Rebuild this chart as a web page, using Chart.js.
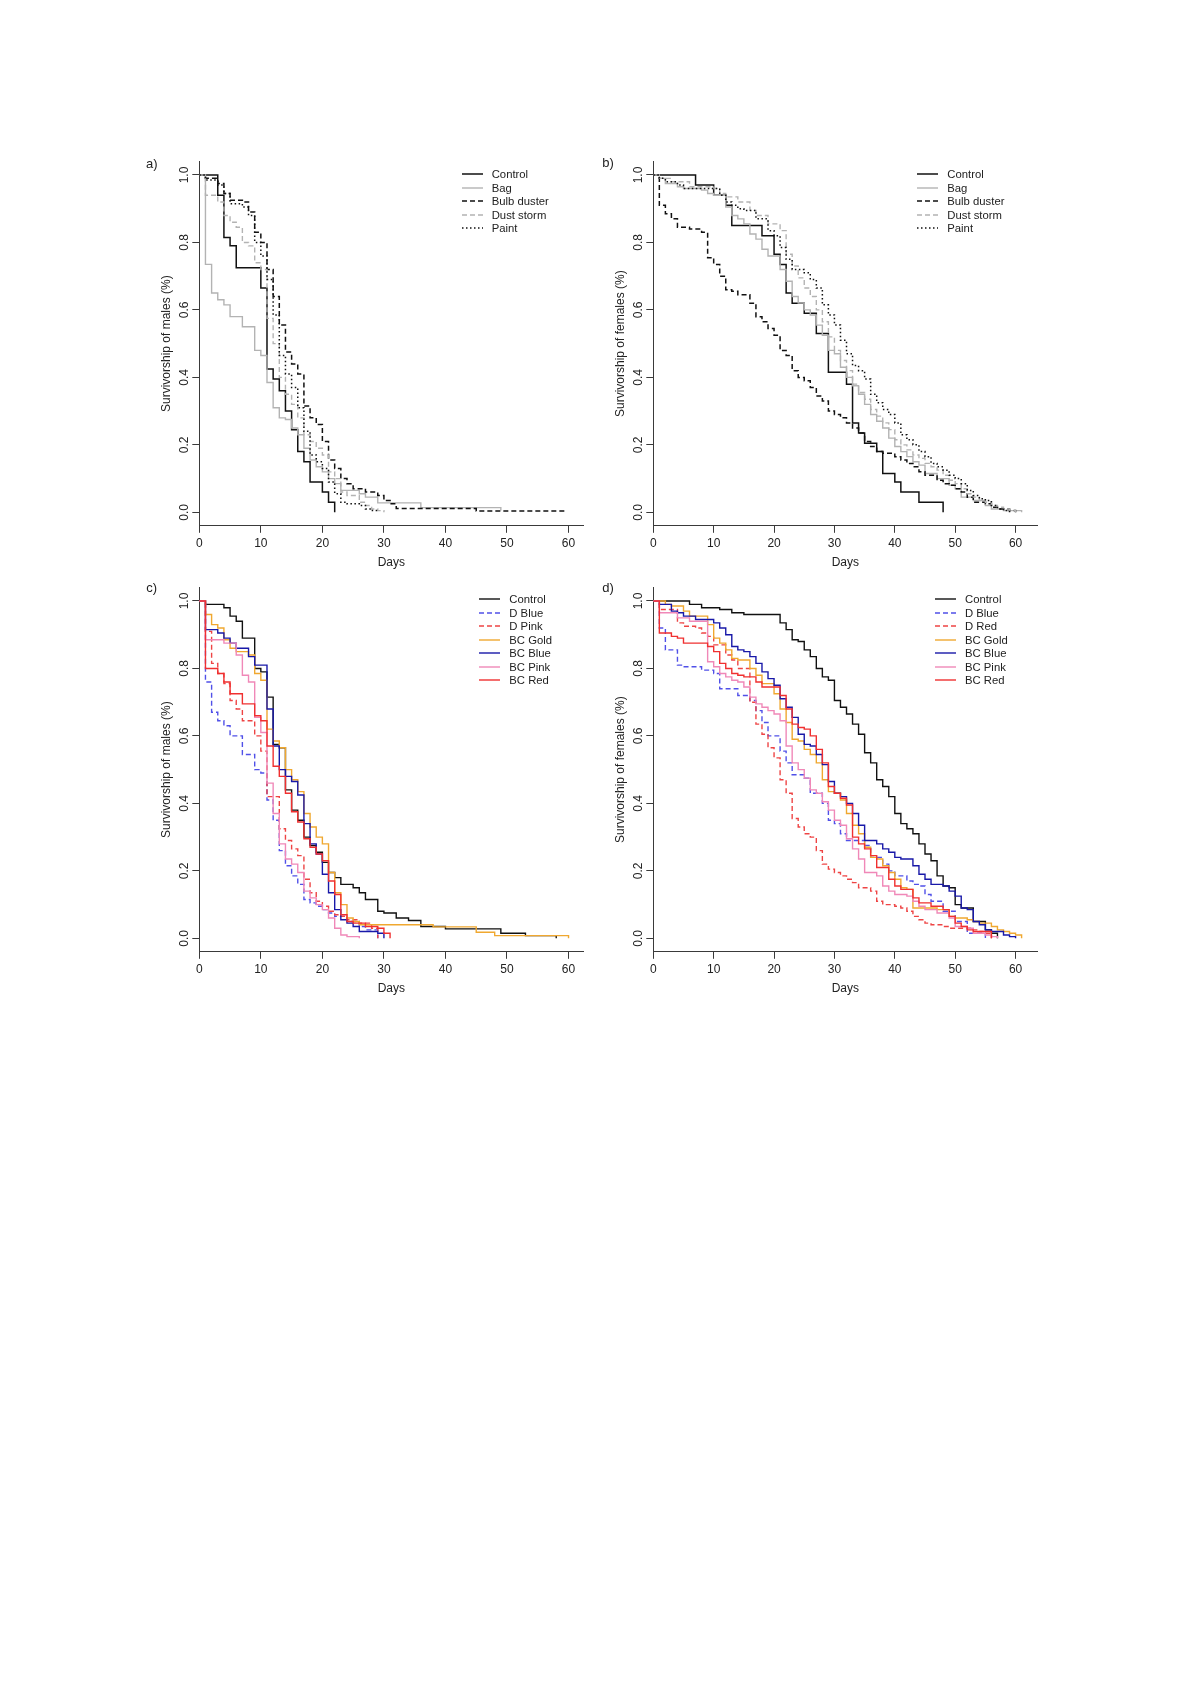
<!DOCTYPE html>
<html>
<head>
<meta charset="utf-8">
<title>Survivorship curves</title>
<script src="https://cdn.jsdelivr.net/npm/chart.js@4.4.0/dist/chart.umd.min.js"></script>
<style>
  body { margin: 0; background: #fff; }
  #page { position: relative; width: 1200px; height: 1697px; background: #fff;
          font-family: 'Liberation Sans', Arial, sans-serif; color: #222; overflow: hidden; }
  .panel { position: absolute; }
  .tag { position: absolute; font-size: 13px; line-height: 1; transform: translate(-50%, -50%); }
  .legend { position: absolute; font-size: 11.3px; }
  .legend div { display: flex; align-items: center; height: 13.5px; white-space: nowrap; }
  .legend svg { margin-right: 9px; flex: none; }
</style>
</head>
<body>
<div id="page"></div>
<script>
// Tick labels
const dayTicks = [0, 10, 20, 30, 40, 50, 60];
const survTicks = [0, 0.2, 0.4, 0.6, 0.8, 1.0];

// Series names
const namesAB = ['Control', 'Bag', 'Bulb duster', 'Dust storm', 'Paint'];
const namesC = ['Control', 'D Blue', 'D Pink', 'BC Gold', 'BC Blue', 'BC Pink', 'BC Red'];
const namesD = ['Control', 'D Blue', 'D Red', 'BC Gold', 'BC Blue', 'BC Pink', 'BC Red'];

// a) males, [day, survivorship]
const aControl = [[0,1],[3,0.94],[4,0.815],[5,0.79],[6,0.725],[10,0.665],[11,0.425],[12,0.395],[13,0.36],[14,0.30],[15,0.245],[16,0.18],[17,0.15],[18,0.09],[20,0.06],[21,0.03],[22,0]];
const aBag = [[0,1],[1,0.735],[2,0.65],[3,0.63],[4,0.615],[5,0.58],[7,0.55],[9,0.48],[10,0.465],[11,0.385],[12,0.31],[13,0.28],[14,0.275],[15,0.25],[16,0.23],[17,0.19],[18,0.155],[19,0.135],[20,0.12],[21,0.10],[22,0.085],[23,0.065],[26,0.055],[27,0.045],[29,0.028],[36,0.014],[49,0.005]];
const aBulb = [[0,1],[1,0.99],[3,0.975],[4,0.945],[5,0.925],[7,0.92],[8,0.89],[9,0.83],[10,0.80],[11,0.72],[12,0.64],[13,0.555],[14,0.475],[15,0.44],[16,0.41],[17,0.315],[18,0.28],[19,0.26],[20,0.21],[21,0.155],[22,0.13],[23,0.10],[24,0.085],[25,0.07],[27,0.06],[29,0.05],[30,0.035],[31,0.025],[32,0.011],[45,0.004],[59.7,0.004]];
const aDust = [[0,1],[1,0.94],[3,0.92],[4,0.88],[5,0.86],[6,0.845],[7,0.80],[8,0.79],[9,0.74],[10,0.72],[11,0.575],[12,0.50],[13,0.40],[14,0.35],[15,0.32],[16,0.28],[17,0.23],[18,0.21],[19,0.19],[20,0.17],[21,0.12],[22,0.10],[23,0.06],[24,0.05],[26,0.03],[27,0.02],[28,0.01],[29,0.005],[30,0]];
const aPaint = [[0,1],[1,0.985],[3,0.97],[4,0.945],[5,0.915],[7,0.905],[8,0.88],[9,0.80],[10,0.76],[11,0.69],[12,0.585],[13,0.465],[14,0.41],[15,0.37],[16,0.31],[17,0.24],[18,0.17],[19,0.15],[20,0.13],[21,0.09],[22,0.055],[23,0.03],[24,0.025],[26,0.02],[27,0.01],[28,0.005],[29,0]];

// b) females
const bControl = [[0,1],[7,0.97],[10,0.94],[12,0.91],[13,0.85],[18,0.82],[20,0.765],[21,0.735],[22,0.65],[23,0.62],[25,0.59],[27,0.53],[29,0.415],[32,0.38],[33,0.265],[34,0.235],[35,0.205],[37,0.18],[38,0.115],[40,0.09],[41,0.06],[44,0.03],[48,0]];
const bBag = [[0,1],[1,0.99],[2,0.975],[4,0.965],[5,0.96],[8,0.955],[9,0.945],[10,0.94],[12,0.905],[13,0.88],[14,0.87],[15,0.855],[16,0.825],[17,0.81],[18,0.78],[19,0.76],[21,0.72],[22,0.685],[23,0.64],[24,0.62],[25,0.60],[26,0.585],[27,0.555],[28,0.525],[29,0.48],[30,0.47],[31,0.43],[32,0.40],[33,0.375],[34,0.35],[35,0.32],[36,0.29],[37,0.27],[38,0.25],[39,0.22],[40,0.195],[41,0.18],[42,0.165],[43,0.15],[44,0.14],[45,0.115],[47,0.10],[49,0.08],[50,0.07],[51,0.045],[53,0.035],[55,0.02],[56,0.01],[58,0.005],[61,0]];
const bBulb = [[0,1],[1,0.91],[2,0.885],[3,0.87],[4,0.845],[6,0.84],[8,0.83],[9,0.755],[10,0.735],[11,0.70],[12,0.66],[13,0.655],[14,0.645],[16,0.62],[17,0.58],[18,0.565],[19,0.545],[20,0.525],[21,0.48],[22,0.465],[23,0.42],[24,0.40],[25,0.39],[26,0.37],[27,0.345],[28,0.33],[29,0.30],[30,0.29],[31,0.28],[32,0.265],[33,0.25],[34,0.235],[35,0.21],[36,0.195],[37,0.18],[38,0.175],[40,0.165],[41,0.155],[42,0.145],[43,0.135],[44,0.12],[45,0.11],[47,0.095],[48,0.085],[49,0.08],[50,0.07],[51,0.06],[52,0.045],[53,0.03],[55,0.025],[56,0.015],[57,0.01],[59,0.005],[60,0]];
const bDust = [[0,1],[1,0.99],[3,0.98],[6,0.965],[10,0.96],[11,0.945],[12,0.935],[14,0.92],[16,0.895],[17,0.88],[19,0.855],[21,0.835],[22,0.765],[23,0.73],[24,0.695],[25,0.665],[26,0.64],[27,0.60],[28,0.565],[29,0.52],[30,0.48],[31,0.45],[32,0.42],[33,0.38],[34,0.355],[35,0.335],[36,0.305],[37,0.285],[38,0.265],[39,0.245],[40,0.215],[41,0.20],[42,0.185],[43,0.17],[44,0.16],[45,0.145],[46,0.135],[47,0.125],[48,0.11],[49,0.095],[50,0.085],[51,0.07],[52,0.055],[53,0.045],[54,0.035],[55,0.03],[56,0.02],[57,0.015],[58,0.01],[59,0.005],[60,0]];
const bPaint = [[0,1],[1,0.99],[2,0.98],[4,0.97],[5,0.96],[11,0.94],[12,0.92],[13,0.91],[14,0.90],[15,0.895],[17,0.87],[19,0.835],[20,0.82],[21,0.785],[22,0.75],[23,0.72],[25,0.71],[26,0.69],[27,0.665],[28,0.615],[29,0.585],[30,0.555],[31,0.51],[32,0.47],[33,0.435],[34,0.42],[35,0.395],[36,0.35],[37,0.325],[38,0.305],[39,0.29],[40,0.265],[41,0.23],[42,0.215],[43,0.20],[44,0.18],[45,0.165],[46,0.145],[47,0.135],[48,0.125],[49,0.11],[50,0.10],[51,0.085],[52,0.065],[53,0.05],[54,0.04],[55,0.035],[56,0.02],[57,0.01],[58,0.005],[59,0]];

// c) males
const cControl = [[0,1],[1,0.99],[4,0.98],[5,0.955],[6,0.94],[7,0.89],[9,0.80],[10,0.79],[11,0.715],[12,0.575],[13,0.565],[14,0.44],[15,0.38],[16,0.35],[17,0.30],[18,0.275],[19,0.255],[20,0.225],[21,0.195],[22,0.18],[23,0.16],[25,0.15],[26,0.135],[27,0.115],[29,0.08],[30,0.075],[32,0.06],[34,0.053],[36,0.035],[40,0.028],[49,0.015],[53,0.008],[58,0]];
const cDBlue = [[0,1],[1,0.76],[2,0.67],[3,0.645],[4,0.63],[5,0.60],[7,0.545],[9,0.50],[10,0.49],[11,0.41],[12,0.35],[13,0.26],[14,0.215],[15,0.185],[16,0.16],[17,0.115],[18,0.105],[19,0.095],[20,0.085],[21,0.075],[22,0.065],[24,0.05],[26,0.035],[27,0.025],[29,0]];
const cDPink = [[0,1],[1,0.91],[2,0.815],[3,0.785],[4,0.755],[5,0.705],[6,0.68],[7,0.645],[9,0.60],[10,0.555],[11,0.42],[13,0.325],[14,0.29],[15,0.265],[16,0.245],[17,0.175],[18,0.135],[19,0.11],[20,0.095],[21,0.08],[22,0.07],[23,0.065],[24,0.055],[26,0.045],[28,0.03],[29,0]];
const cGold = [[0,1],[1,0.96],[2,0.93],[3,0.92],[4,0.885],[5,0.86],[6,0.85],[8,0.84],[9,0.785],[10,0.765],[11,0.62],[12,0.585],[13,0.565],[14,0.50],[15,0.47],[16,0.435],[17,0.37],[18,0.33],[19,0.30],[20,0.28],[21,0.195],[22,0.135],[23,0.10],[24,0.06],[25,0.05],[26,0.04],[38,0.034],[45,0.018],[48,0.008],[60,0]];
const cBlue = [[0,1],[1,0.915],[3,0.905],[4,0.89],[5,0.875],[6,0.86],[8,0.835],[9,0.81],[11,0.68],[12,0.57],[13,0.50],[14,0.48],[15,0.465],[16,0.425],[17,0.34],[18,0.28],[19,0.25],[20,0.19],[21,0.135],[22,0.085],[23,0.055],[24,0.045],[25,0.035],[26,0.02],[29,0.015],[30,0]];
const cPink = [[0,1],[1,0.885],[4,0.875],[6,0.84],[7,0.78],[8,0.76],[9,0.655],[10,0.61],[11,0.46],[12,0.37],[13,0.28],[14,0.235],[15,0.22],[16,0.195],[17,0.14],[18,0.12],[19,0.10],[20,0.085],[21,0.06],[22,0.03],[23,0.01],[24,0.005],[26,0]];
const cRed = [[0,1],[1,0.80],[3,0.785],[4,0.76],[5,0.725],[7,0.695],[9,0.66],[10,0.645],[11,0.57],[12,0.51],[13,0.48],[14,0.43],[15,0.375],[16,0.345],[17,0.295],[18,0.27],[19,0.25],[20,0.23],[21,0.17],[22,0.13],[23,0.07],[24,0.05],[25,0.045],[27,0.035],[29,0.03],[30,0.015],[31,0]];

// d) females
const dControl = [[0,1],[6,0.99],[8,0.98],[11,0.975],[13,0.965],[15,0.96],[21,0.935],[22,0.915],[23,0.885],[24,0.88],[25,0.855],[26,0.835],[27,0.80],[28,0.775],[29,0.765],[30,0.705],[31,0.685],[32,0.665],[33,0.635],[34,0.605],[35,0.55],[36,0.52],[37,0.47],[38,0.45],[39,0.42],[40,0.37],[41,0.34],[42,0.325],[43,0.31],[44,0.28],[45,0.25],[46,0.23],[47,0.185],[48,0.155],[49,0.15],[50,0.10],[51,0.09],[53,0.05],[55,0.025],[56,0.015],[57,0]];
const dDBlue = [[0,1],[1,0.92],[2,0.855],[4,0.81],[5,0.805],[8,0.795],[10,0.785],[11,0.74],[14,0.72],[16,0.705],[17,0.675],[18,0.64],[19,0.60],[21,0.555],[22,0.52],[23,0.485],[25,0.475],[26,0.43],[28,0.40],[29,0.35],[30,0.34],[31,0.31],[32,0.29],[35,0.275],[36,0.24],[38,0.22],[39,0.20],[40,0.185],[42,0.17],[43,0.16],[44,0.155],[45,0.13],[46,0.11],[48,0.08],[50,0.05],[52,0.015],[55,0]];
const dDRed = [[0,1],[1,0.975],[4,0.935],[5,0.925],[7,0.92],[8,0.905],[9,0.895],[10,0.87],[12,0.84],[13,0.825],[14,0.80],[16,0.70],[17,0.635],[18,0.605],[19,0.565],[20,0.535],[21,0.47],[22,0.43],[23,0.355],[24,0.33],[25,0.31],[26,0.30],[27,0.26],[28,0.22],[29,0.205],[30,0.195],[31,0.185],[32,0.175],[33,0.165],[34,0.15],[36,0.14],[37,0.11],[38,0.10],[40,0.095],[41,0.09],[42,0.08],[43,0.065],[44,0.055],[45,0.045],[46,0.04],[48,0.035],[49,0.03],[53,0.025],[54,0.02],[55,0.015],[56,0]];
const dGold = [[0,1],[2,0.99],[3,0.985],[5,0.97],[6,0.955],[9,0.93],[10,0.89],[11,0.875],[12,0.855],[13,0.83],[14,0.825],[16,0.80],[17,0.78],[18,0.755],[20,0.725],[21,0.68],[22,0.64],[23,0.59],[24,0.585],[25,0.56],[26,0.545],[27,0.52],[28,0.47],[29,0.435],[30,0.43],[31,0.41],[32,0.37],[33,0.335],[34,0.31],[35,0.27],[36,0.24],[37,0.235],[38,0.215],[39,0.195],[40,0.175],[41,0.15],[42,0.145],[43,0.09],[47,0.085],[49,0.065],[50,0.06],[52,0.055],[53,0.05],[54,0.045],[56,0.035],[57,0.025],[58,0.02],[59,0.015],[60,0.01],[61,0]];
const dBlue = [[0,1],[1,0.99],[3,0.97],[4,0.965],[5,0.955],[7,0.945],[10,0.935],[11,0.92],[12,0.90],[13,0.865],[14,0.855],[15,0.85],[16,0.835],[17,0.815],[18,0.79],[19,0.77],[20,0.75],[21,0.71],[22,0.685],[23,0.655],[24,0.605],[25,0.575],[26,0.57],[27,0.545],[28,0.515],[29,0.465],[30,0.43],[31,0.42],[32,0.40],[33,0.37],[34,0.335],[35,0.29],[37,0.28],[38,0.265],[39,0.255],[40,0.24],[41,0.235],[43,0.215],[44,0.19],[45,0.175],[46,0.16],[48,0.155],[49,0.14],[50,0.125],[51,0.09],[52,0.085],[53,0.05],[54,0.04],[55,0.025],[56,0.02],[58,0.01],[59,0.005],[60,0]];
const dPink = [[0,1],[1,0.965],[4,0.95],[6,0.94],[9,0.82],[10,0.805],[11,0.785],[12,0.775],[13,0.765],[14,0.76],[15,0.745],[16,0.715],[17,0.695],[18,0.685],[19,0.675],[20,0.665],[21,0.645],[22,0.57],[23,0.52],[24,0.50],[25,0.475],[26,0.44],[27,0.43],[28,0.405],[29,0.38],[30,0.35],[31,0.335],[32,0.295],[33,0.265],[34,0.235],[35,0.195],[37,0.185],[38,0.155],[39,0.14],[40,0.13],[42,0.125],[43,0.11],[44,0.095],[45,0.085],[47,0.075],[49,0.06],[50,0.035],[52,0.03],[53,0.015],[55,0.01],[56,0.005],[57,0]];
const dRed = [[0,1],[1,0.905],[3,0.895],[4,0.89],[5,0.875],[9,0.865],[10,0.85],[11,0.815],[12,0.80],[13,0.785],[14,0.78],[15,0.775],[17,0.76],[18,0.745],[21,0.72],[22,0.68],[23,0.635],[24,0.625],[25,0.62],[26,0.60],[27,0.56],[28,0.52],[29,0.45],[30,0.43],[31,0.415],[32,0.395],[33,0.30],[34,0.28],[35,0.265],[36,0.245],[37,0.21],[39,0.175],[40,0.155],[41,0.145],[43,0.12],[44,0.105],[46,0.095],[48,0.085],[49,0.065],[50,0.045],[51,0.035],[52,0.025],[53,0.02],[56,0]];

// Line styles
const grey = '#b3b3b3';
const stylesAB = [
  { color: '#111', width: 1.5, dash: [] },
  { color: grey, width: 1.4, dash: [] },
  { color: '#111', width: 1.5, dash: [5, 3] },
  { color: grey, width: 1.4, dash: [5, 3] },
  { color: '#111', width: 1.5, dash: [1.5, 2.5] }
];
const stylesCD = [
  { color: '#111', width: 1.4, dash: [] },
  { color: '#5050e8', width: 1.4, dash: [5, 3] },
  { color: '#ee4444', width: 1.4, dash: [5, 3] },
  { color: '#f0a830', width: 1.4, dash: [] },
  { color: '#1818a8', width: 1.4, dash: [] },
  { color: '#f088b8', width: 1.4, dash: [] },
  { color: '#f03030', width: 1.4, dash: [] }
];

const panels = [
  { id: 'a', left: 140, top: 150, xmax: 62.4, yTitle: 'Survivorship of males (%)',
    names: namesAB, styles: stylesAB, series: [aControl, aBag, aBulb, aDust, aPaint],
    tagX: 151.7, tagY: 163.3, legX: 461.7, legY: 174 },
  { id: 'b', left: 594.2, top: 150, xmax: 63.6, yTitle: 'Survivorship of females (%)',
    names: namesAB, styles: stylesAB, series: [bControl, bBag, bBulb, bDust, bPaint],
    tagX: 608, tagY: 162, legX: 917.3, legY: 174 },
  { id: 'c', left: 140, top: 576, xmax: 62.4, yTitle: 'Survivorship of males (%)',
    names: namesC, styles: stylesCD, series: [cControl, cDBlue, cDPink, cGold, cBlue, cPink, cRed],
    tagX: 151.7, tagY: 586.7, legX: 479.3, legY: 599 },
  { id: 'd', left: 594.2, top: 576, xmax: 63.6, yTitle: 'Survivorship of females (%)',
    names: namesD, styles: stylesCD, series: [dControl, dDBlue, dDRed, dGold, dBlue, dPink, dRed],
    tagX: 608, tagY: 586.7, legX: 935, legY: 599 }
];

const axisColor = '#3a3a3a';
const textColor = '#222';
Chart.defaults.font.family = "'Liberation Sans', Arial, sans-serif";

const page = document.getElementById('page');

function makePanel(p) {
  const canvas = document.createElement('canvas');
  canvas.className = 'panel';
  canvas.width = 460;
  canvas.height = 430;
  canvas.style.left = p.left + 'px';
  canvas.style.top = p.top + 'px';
  page.appendChild(canvas);

  const n = p.series.length;
  new Chart(canvas, {
    type: 'line',
    data: {
      datasets: p.series.map((s, i) => ({
        label: p.names[i],
        data: s.map(([x, y]) => ({ x, y })),
        borderColor: p.styles[i].color,
        borderWidth: p.styles[i].width,
        borderDash: p.styles[i].dash,
        pointRadius: 0,
        stepped: true,
        fill: false,
        order: n - i
      }))
    },
    options: {
      responsive: false,
      animation: false,
      events: [],
      layout: { padding: { left: 0, top: 11.5, right: 16.7, bottom: 0 } },
      plugins: { legend: { display: false }, tooltip: { enabled: false } },
      scales: {
        x: {
          type: 'linear', min: 0, max: p.xmax,
          afterBuildTicks: s => { s.ticks = dayTicks.map(v => ({ value: v })); },
          afterFit: s => { s.height = 54.2; },
          border: { display: true, color: axisColor, width: 1 },
          grid: { display: true, drawOnChartArea: false, drawTicks: true, tickLength: 7, color: axisColor, lineWidth: 1 },
          ticks: { color: textColor, font: { size: 12 }, padding: 4, maxRotation: 0, autoSkip: false,
                   callback: v => String(v) },
          title: { display: true, text: 'Days', color: textColor, font: { size: 12 },
                   padding: { top: 0, bottom: 9.8 } }
        },
        y: {
          type: 'linear', min: -0.04, max: 1.04,
          afterBuildTicks: s => { s.ticks = survTicks.map(v => ({ value: v })); },
          afterFit: s => { s.width = 59.3; },
          border: { display: true, color: axisColor, width: 1 },
          grid: { display: true, drawOnChartArea: false, drawTicks: true, tickLength: 7, color: axisColor, lineWidth: 1 },
          ticks: { color: textColor, font: { size: 12 }, padding: -1, minRotation: 90, maxRotation: 90,
                   crossAlign: 'center', autoSkip: false, callback: v => v.toFixed(1) },
          title: { display: true, text: p.yTitle, color: textColor, font: { size: 12 },
                   padding: { top: 19.5, bottom: 0 } }
        }
      }
    }
  });

  // panel letter
  const tag = document.createElement('div');
  tag.className = 'tag';
  tag.textContent = p.id + ')';
  tag.style.left = p.tagX + 'px';
  tag.style.top = p.tagY + 'px';
  page.appendChild(tag);

  // legend
  const box = document.createElement('div');
  box.className = 'legend';
  box.style.left = p.legX + 'px';
  box.style.top = (p.legY - 6.75) + 'px';
  p.names.forEach((name, i) => {
    const st = p.styles[i];
    const row = document.createElement('div');
    row.innerHTML = `<svg width="21" height="4"><line x1="0" y1="2" x2="21" y2="2" stroke="${st.color}" stroke-width="${st.width}" stroke-dasharray="${st.dash.join(' ') || 'none'}"/></svg><span>${name}</span>`;
    box.appendChild(row);
  });
  page.appendChild(box);
}

panels.forEach(makePanel);
</script>
</body>
</html>
